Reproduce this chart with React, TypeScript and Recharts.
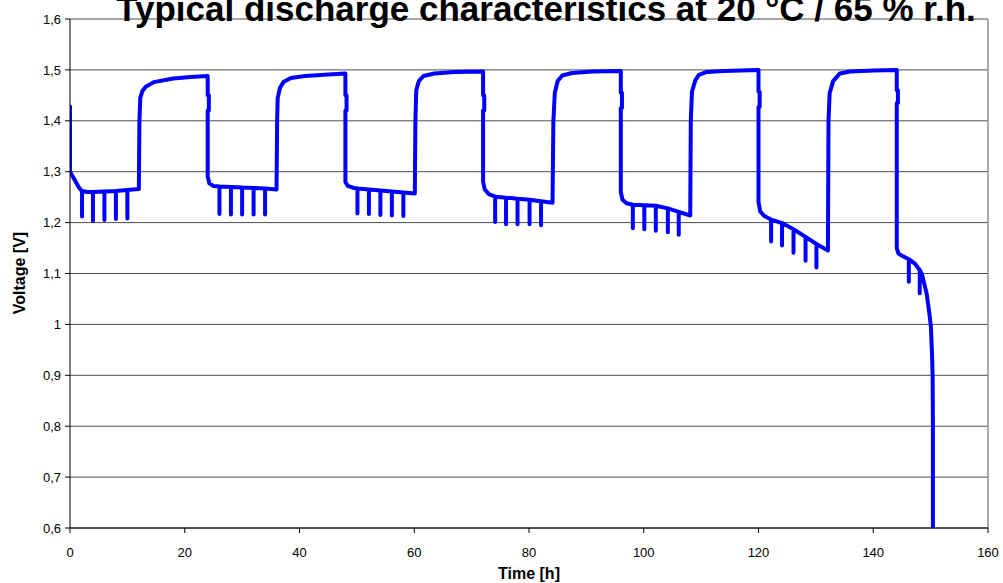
import { CartesianGrid, Line, LineChart, ReferenceLine, XAxis, YAxis } from 'recharts';

const FONT = '"Liberation Sans", Arial, sans-serif';

const xTicks = [0, 20, 40, 60, 80, 100, 120, 140, 160];
const yTicks = [0.6, 0.7, 0.8, 0.9, 1.0, 1.1, 1.2, 1.3, 1.4, 1.5, 1.6];

// [time h, voltage V], one array per 24 h cycle
const day1: [number, number][] = [
  [0, 1.428], [0, 1.3], [0.8, 1.284], [1.6, 1.268], [2.1, 1.262], [2.1, 1.212], [2.1, 1.262],
  [3, 1.26], [4, 1.26], [4, 1.203], [4, 1.26], [6, 1.261], [6, 1.205], [6, 1.261],
  [8, 1.262], [8, 1.207], [8, 1.262], [10, 1.264], [10, 1.208], [10, 1.264], [12, 1.266],
  [12.1, 1.4], [12.25, 1.445], [12.6, 1.458], [13.2, 1.467], [14.6, 1.476], [18, 1.483], [21, 1.486], [24, 1.488],
  [24, 1.45], [24.2, 1.45], [24.2, 1.42], [24, 1.42],
];

const day2: [number, number][] = [
  [24, 1.29], [24.3, 1.277], [25, 1.272], [26.05, 1.271], [26.05, 1.217], [26.05, 1.271],
  [28.05, 1.27], [28.05, 1.216], [28.05, 1.27], [30, 1.269], [30, 1.216], [30, 1.269],
  [32, 1.268], [32, 1.216], [32, 1.268], [34, 1.267], [34, 1.216], [34, 1.267], [36, 1.265],
  [36.1, 1.4], [36.2, 1.445], [36.6, 1.465], [37.2, 1.476], [38.5, 1.484], [41, 1.488], [45, 1.491], [48, 1.493],
  [48, 1.45], [48.2, 1.45], [48.2, 1.42], [48, 1.42],
];

const day3: [number, number][] = [
  [48, 1.28], [48.4, 1.272], [49.5, 1.268], [50.1, 1.267], [50.1, 1.218], [50.1, 1.267],
  [52.1, 1.265], [52.1, 1.217], [52.1, 1.265], [54.1, 1.263], [54.1, 1.215], [54.1, 1.263],
  [56.1, 1.261], [56.1, 1.214], [56.1, 1.261], [58.1, 1.259], [58.1, 1.213], [58.1, 1.259], [60.1, 1.257],
  [60.2, 1.4], [60.35, 1.46], [60.8, 1.478], [61.6, 1.488], [63.5, 1.493], [67, 1.496], [72, 1.497],
  [72, 1.45], [72.2, 1.45], [72.2, 1.42], [72, 1.42],
];

const day4: [number, number][] = [
  [72, 1.28], [72.3, 1.265], [73, 1.256], [74.1, 1.251], [74.1, 1.201], [74.1, 1.251],
  [76, 1.249], [76, 1.197], [76, 1.249], [78, 1.247], [78, 1.197], [78, 1.247],
  [80.1, 1.245], [80.1, 1.197], [80.1, 1.245], [82.1, 1.242], [82.1, 1.195], [82.1, 1.242], [84.1, 1.239],
  [84.25, 1.4], [84.5, 1.455], [85, 1.478], [85.8, 1.489], [87.5, 1.494], [91, 1.497], [96, 1.498],
  [96, 1.455], [96.2, 1.455], [96.2, 1.425], [96, 1.425],
];

const day5: [number, number][] = [
  [96, 1.26], [96.3, 1.245], [97, 1.238], [98.1, 1.235], [98.1, 1.189], [98.1, 1.235],
  [100.1, 1.234], [100.1, 1.187], [100.1, 1.234], [102.1, 1.233], [102.1, 1.184], [102.1, 1.233],
  [104.2, 1.228], [104.2, 1.181], [104.2, 1.228], [106.1, 1.221], [106.1, 1.176], [106.1, 1.221], [108.1, 1.214],
  [108.2, 1.4], [108.4, 1.457], [109, 1.48], [109.6, 1.49], [111, 1.496], [114, 1.498], [120, 1.5],
  [120, 1.457], [120.2, 1.457], [120.2, 1.427], [120, 1.427],
];

const day6: [number, number][] = [
  [120, 1.24], [120.3, 1.222], [121, 1.213], [122.2, 1.206], [122.2, 1.163], [122.2, 1.206],
  [124.1, 1.199], [124.1, 1.155], [124.1, 1.199], [126.1, 1.187], [126.1, 1.141], [126.1, 1.187],
  [128.2, 1.172], [128.2, 1.125], [128.2, 1.172], [130.1, 1.158], [130.1, 1.112], [130.1, 1.158], [132.1, 1.145],
  [132.2, 1.4], [132.4, 1.454], [133, 1.478], [134.2, 1.493], [136, 1.497], [140, 1.499], [144.1, 1.5],
  [144.1, 1.46], [144.3, 1.46], [144.3, 1.435], [144.1, 1.435],
];

const day7: [number, number][] = [
  [144.1, 1.15], [144.4, 1.139], [145, 1.135], [146.2, 1.128], [146.2, 1.084], [146.2, 1.128],
  [147.2, 1.12], [148.1, 1.107], [148.1, 1.061], [148.1, 1.107], [148.5, 1.098], [149.3, 1.061],
  [149.8, 1.02], [150.05, 0.995], [150.25, 0.94], [150.35, 0.897], [150.4, 0.8], [150.4, 0.6],
];

const data = [...day1, ...day2, ...day3, ...day4, ...day5, ...day6, ...day7].map(([t, v]) => ({ t, v }));

const formatVolt = (v: number) => String(Math.round(v * 10) / 10).replace('.', ',');

export default function App() {
  const tickStyle = { fontSize: 13, fill: '#000', fontFamily: FONT };
  return (
    <div style={{ position: 'absolute', left: 0, top: 0, width: 1003, height: 583, background: '#fff' }}>
      <LineChart width={1003} height={583} data={data} margin={{ top: 19, right: 15, bottom: 0, left: 0 }}>
        <CartesianGrid vertical={false} stroke="#4d4d4d" />
        <XAxis
          dataKey="t"
          type="number"
          domain={[0, 160]}
          ticks={xTicks}
          allowDataOverflow
          height={55}
          tickSize={5}
          tickMargin={15}
          stroke="#000"
          tick={tickStyle}
        />
        <YAxis
          type="number"
          domain={[0.6, 1.6]}
          ticks={yTicks}
          allowDataOverflow
          width={70}
          tickSize={5}
          tickMargin={4}
          stroke="#000"
          tick={tickStyle}
          tickFormatter={formatVolt}
        />
        <ReferenceLine x={160} stroke="#8c8c8c" strokeWidth={1.5} />
        <Line
          type="linear"
          dataKey="v"
          stroke="#0000ff"
          strokeWidth={4}
          strokeLinejoin="round"
          strokeLinecap="round"
          dot={false}
          activeDot={false}
          isAnimationActive={false}
        />
      </LineChart>
      <svg width={1003} height={583} style={{ position: 'absolute', left: 0, top: 0, pointerEvents: 'none' }}>
        <text x={546} y={21} textAnchor="middle" fontSize={35} fontWeight="bold" fontFamily={FONT} fill="#000">
          Typical discharge characteristics at 20 °C / 65 % r.h.
        </text>
        <text
          x={19}
          y={273}
          transform="rotate(-90 19 273)"
          textAnchor="middle"
          dominantBaseline="central"
          fontSize={16}
          fontWeight="bold"
          fontFamily={FONT}
          fill="#000"
        >
          Voltage [V]
        </text>
        <text x={529} y={579} textAnchor="middle" fontSize={16} fontWeight="bold" fontFamily={FONT} fill="#000">
          Time [h]
        </text>
      </svg>
    </div>
  );
}
